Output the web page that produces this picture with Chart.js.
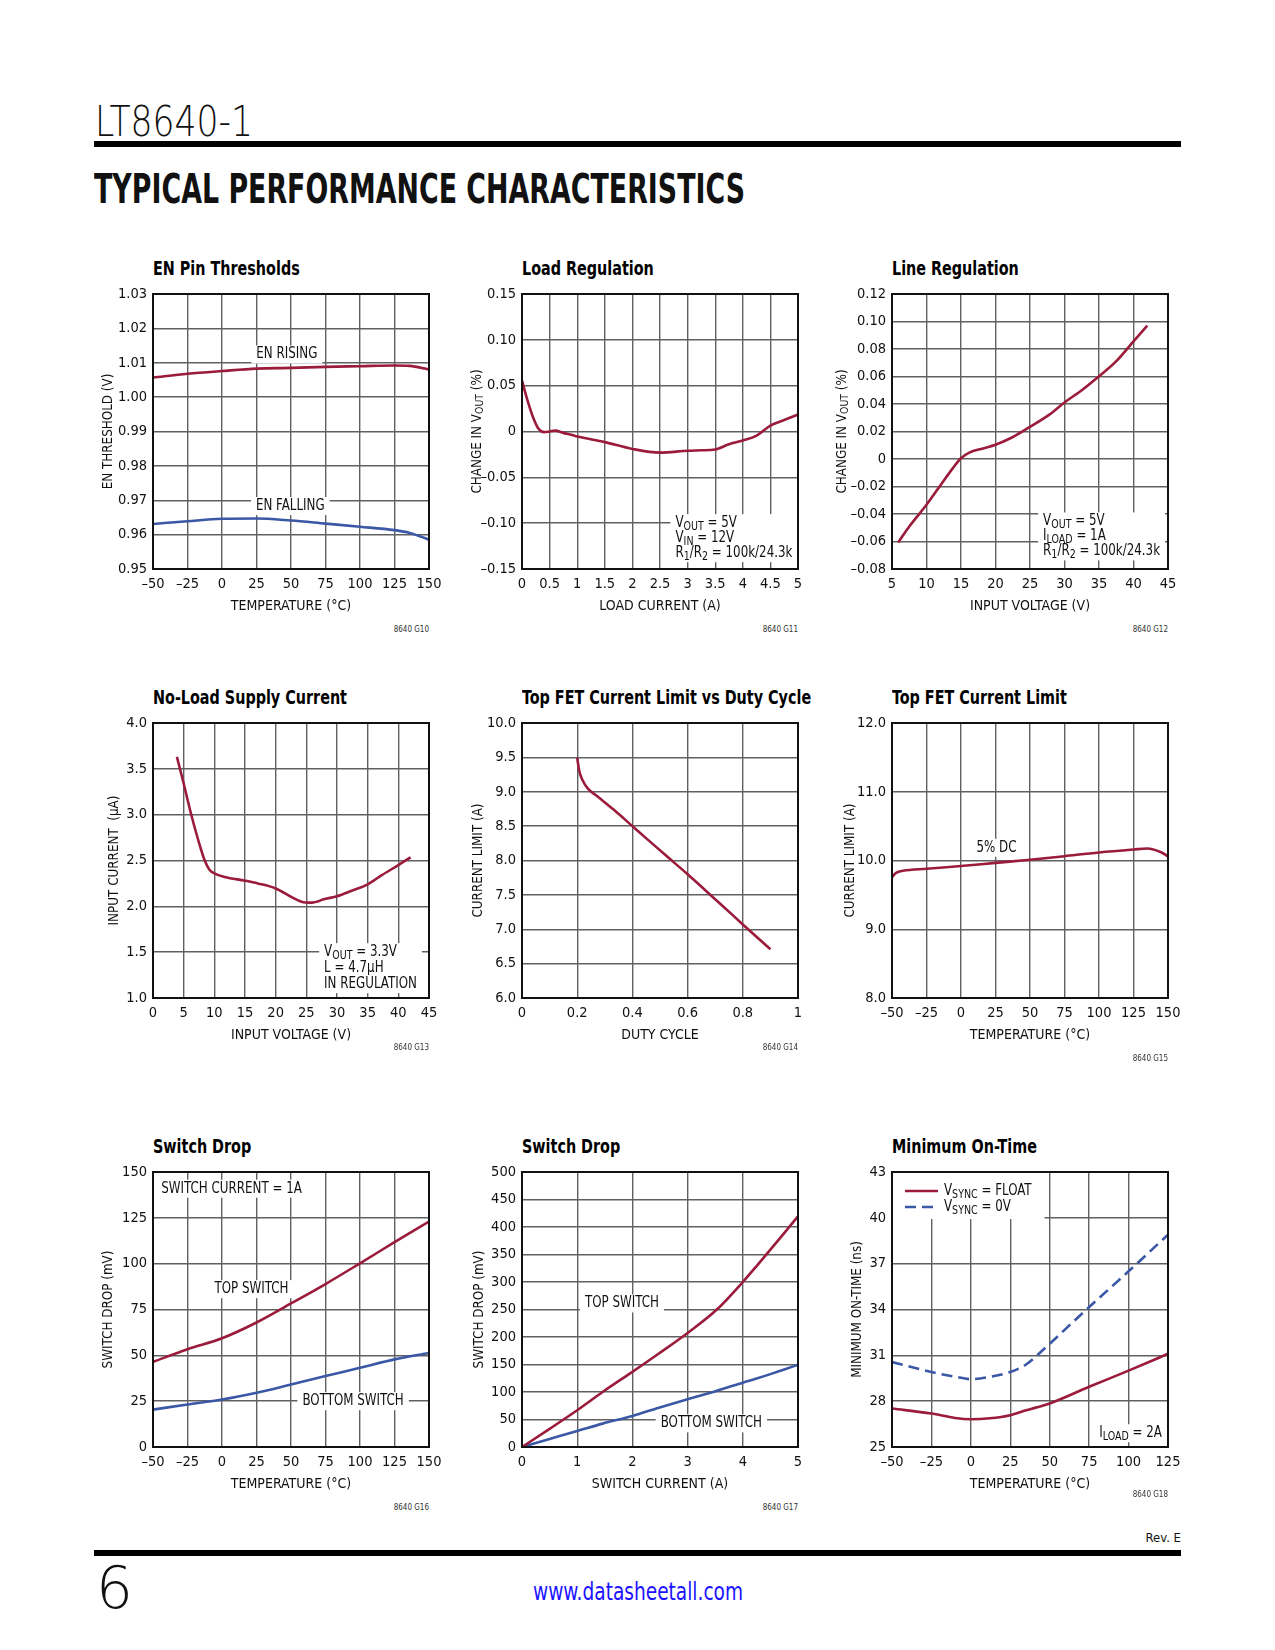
<!DOCTYPE html>
<html>
<head>
<meta charset="utf-8">
<script src="https://cdn.jsdelivr.net/npm/chart.js@4.4.1/dist/chart.umd.min.js"></script>
<style>
  body { margin:0; background:#fff; width:1275px; height:1650px; position:relative; overflow:hidden;
         font-family:'Liberation Sans Narrow','DejaVu Sans Condensed',sans-serif; color:#111; }
  .abs { position:absolute; white-space:nowrap; }
  .bar { position:absolute; left:94px; width:1087px; height:6px; background:#000; }
  .ctitle { position:absolute; white-space:nowrap; font-weight:bold; font-size:19px; line-height:20px; color:#000;
            transform-origin:0 0; transform:scaleX(0.84); }
  .code { position:absolute; width:100px; text-align:right; font-size:8px; line-height:8px; color:#333; }
</style>
</head>
<body>
<div id="part" class="abs" style="left:95px;top:101px;font-family:'DejaVu Sans';font-weight:200;font-size:42px;line-height:42px;">LT8640-1</div>
<div class="bar" style="top:141px"></div>
<div id="tpc" class="abs" style="left:94px;top:169px;font-family:'DejaVu Sans';font-weight:bold;font-size:40px;line-height:40px;">TYPICAL PERFORMANCE CHARACTERISTICS</div>

<div class="bar" style="top:1550px"></div>
<div class="abs" style="left:96px;top:1559px;font-family:'DejaVu Sans';font-weight:200;font-size:58px;line-height:58px;">6</div>
<div id="url" class="abs" style="left:533px;top:1580px;font-size:24px;line-height:24px;color:#1a12ff;">www.datasheetall.com</div>
<div class="abs" style="right:94px;top:1531px;font-size:13px;line-height:14px;">Rev. E</div>

<script>
const FONT = "'Liberation Sans Narrow', 'DejaVu Sans Condensed', sans-serif";
const RED = '#9b1b3b';
const BLUE = '#3b58a6';
const GRID = '#606060';

// ---- EN pin thresholds
const enTemp = [-50, -25, 0, 25, 50, 75, 100, 125, 136, 147, 150];
const enRising = [1.0057, 1.0068, 1.0076, 1.0083, 1.0085, 1.0088, 1.0090, 1.0092, 1.0091, 1.0083, 1.0080];
const enFalling = [0.9631, 0.9639, 0.9646, 0.9647, 0.9641, 0.9632, 0.9623, 0.9613, 0.9605, 0.9590, 0.9585];

// ---- load regulation
const loadI = [0, 0.1, 0.2, 0.3, 0.4, 0.5, 0.6, 0.75, 1.0, 1.5, 2.0, 2.5, 3.0, 3.25, 3.5, 3.75, 4.0, 4.25, 4.5, 4.75, 5.0];
const loadDv = [0.0555, 0.034, 0.0156, 0.003, -0.0007, 0, 0.001, -0.0015, -0.0055, -0.0116, -0.019, -0.023, -0.021, -0.0205, -0.0196, -0.014, -0.0098, -0.0044, 0.0065, 0.0125, 0.0185];

// ---- line regulation
const lineVin = [5.9, 7.5, 10, 11.9, 13.8, 15, 16.2, 18.2, 20, 22.6, 25, 27.7, 30, 32.5, 35, 37.4, 40, 42];
const lineDv = [-0.0607, -0.0491, -0.0333, -0.02, -0.0068, 0.0005, 0.0046, 0.0077, 0.0104, 0.0162, 0.0234, 0.0319, 0.0411, 0.05, 0.0602, 0.0706, 0.0855, 0.097];

// ---- no-load supply current
const nlVin = [3.9, 5, 6.2, 7.3, 8.4, 9.2, 10, 11.7, 15, 17.1, 20, 22.6, 24.2, 25.9, 28, 30, 32.4, 35, 37.3, 40, 42];
const nlCurrent = [3.63, 3.34, 3.01, 2.74, 2.505, 2.40, 2.36, 2.32, 2.28, 2.25, 2.195, 2.10, 2.05, 2.04, 2.08, 2.11, 2.17, 2.24, 2.34, 2.45, 2.535];

// ---- top FET current limit vs duty cycle
const dcDuty = [0.2, 0.207, 0.219, 0.238, 0.274, 0.335, 0.4, 0.468, 0.528, 0.6, 0.662, 0.735, 0.8, 0.9];
const dcLimit = [9.495, 9.31, 9.17, 9.05, 8.93, 8.73, 8.5, 8.26, 8.05, 7.80, 7.575, 7.31, 7.07, 6.71];

// ---- top FET current limit vs temperature
const tfTemp = [-50, -47, -42, -25, 0, 25, 50, 75, 100, 125, 135, 145, 150];
const tfLimit = [9.76, 9.82, 9.85, 9.88, 9.92, 9.965, 10.01, 10.063, 10.117, 10.16, 10.175, 10.12, 10.06];

// ---- switch drop vs temperature
const sdTemp = [-50, -25, 0, 25, 50, 75, 100, 125, 150];
const sdTop = [46.4, 53.3, 59.3, 67.9, 78.3, 88.9, 100.2, 111.7, 123];
const sdBottom = [20.4, 23.2, 25.9, 29.6, 34.1, 38.7, 43.2, 47.8, 51.3];

// ---- switch drop vs current
const scCurrent = [0, 0.5, 1, 1.46, 2, 2.48, 3, 3.52, 4, 4.25, 4.5, 4.75, 5];
const scTop = [0, 33, 66.8, 100, 136.7, 170, 207.4, 249, 300, 329, 359, 389, 419.5];
const scBottom = [0, 14.5, 29, 42.5, 56.5, 71.5, 87, 102, 117, 124.5, 132.5, 141, 149.4];

// ---- minimum on-time
const motTemp = [-50, -25, -10, 0, 12, 25, 35, 42, 50, 75, 100, 125];
const motFloat = [27.52, 27.19, 26.9, 26.82, 26.88, 27.08, 27.4, 27.6, 27.85, 28.94, 30.0, 31.1];
const mot0V = [30.56, 29.91, 29.6, 29.44, 29.59, 29.91, 30.4, 31.0, 31.76, 34.16, 36.5, 38.9];

// ---- ticks
const tempTicks = [-50, -25, 0, 25, 50, 75, 100, 125, 150];
const tempLabels = ['–50', '–25', '0', '25', '50', '75', '100', '125', '150'];
const motXTicks = [-50, -25, 0, 25, 50, 75, 100, 125];
const motXLabels = ['–50', '–25', '0', '25', '50', '75', '100', '125'];
const enYTicks = [0.95, 0.96, 0.97, 0.98, 0.99, 1.00, 1.01, 1.02, 1.03];
const enYLabels = ['0.95', '0.96', '0.97', '0.98', '0.99', '1.00', '1.01', '1.02', '1.03'];
const loadXTicks = [0, 0.5, 1, 1.5, 2, 2.5, 3, 3.5, 4, 4.5, 5];
const loadXLabels = ['0', '0.5', '1', '1.5', '2', '2.5', '3', '3.5', '4', '4.5', '5'];
const loadYTicks = [-0.15, -0.10, -0.05, 0, 0.05, 0.10, 0.15];
const loadYLabels = ['–0.15', '–0.10', '–0.05', '0', '0.05', '0.10', '0.15'];
const lineXTicks = [5, 10, 15, 20, 25, 30, 35, 40, 45];
const lineXLabels = ['5', '10', '15', '20', '25', '30', '35', '40', '45'];
const lineYTicks = [-0.08, -0.06, -0.04, -0.02, 0, 0.02, 0.04, 0.06, 0.08, 0.10, 0.12];
const lineYLabels = ['–0.08', '–0.06', '–0.04', '–0.02', '0', '0.02', '0.04', '0.06', '0.08', '0.10', '0.12'];
const nlXTicks = [0, 5, 10, 15, 20, 25, 30, 35, 40, 45];
const nlXLabels = ['0', '5', '10', '15', '20', '25', '30', '35', '40', '45'];
const nlYTicks = [1, 1.5, 2, 2.5, 3, 3.5, 4];
const nlYLabels = ['1.0', '1.5', '2.0', '2.5', '3.0', '3.5', '4.0'];
const dcXTicks = [0, 0.2, 0.4, 0.6, 0.8, 1];
const dcXLabels = ['0', '0.2', '0.4', '0.6', '0.8', '1'];
const dcYTicks = [6, 6.5, 7, 7.5, 8, 8.5, 9, 9.5, 10];
const dcYLabels = ['6.0', '6.5', '7.0', '7.5', '8.0', '8.5', '9.0', '9.5', '10.0'];
const tfYTicks = [8, 9, 10, 11, 12];
const tfYLabels = ['8.0', '9.0', '10.0', '11.0', '12.0'];
const sdYTicks = [0, 25, 50, 75, 100, 125, 150];
const sdYLabels = ['0', '25', '50', '75', '100', '125', '150'];
const scXTicks = [0, 1, 2, 3, 4, 5];
const scXLabels = ['0', '1', '2', '3', '4', '5'];
const scYTicks = [0, 50, 100, 150, 200, 250, 300, 350, 400, 450, 500];
const scYLabels = ['0', '50', '100', '150', '200', '250', '300', '350', '400', '450', '500'];
const motYTicks = [25, 28, 31, 34, 37, 40, 43];
const motYLabels = ['25', '28', '31', '34', '37', '40', '43'];

// ---- text helpers (subscripts written as V_{OUT}), squeezed to look like a narrow face
const NOTE_SQ = 0.88, YT_SQ = 0.95;
function richParts(str) {
  const parts = [];
  const re = /_\{([^}]*)\}/g;
  let last = 0, m;
  while ((m = re.exec(str))) {
    if (m.index > last) parts.push([str.slice(last, m.index), false]);
    parts.push([m[1], true]);
    last = re.lastIndex;
  }
  if (last < str.length) parts.push([str.slice(last), false]);
  return parts;
}
function richWidth(ctx, str, size, sq) {
  let w = 0;
  richParts(str).forEach(([t, sub]) => {
    ctx.font = `${sub ? Math.round(size * 0.78) : size}px ${FONT}`;
    w += ctx.measureText(t).width;
  });
  return w * sq;
}
function drawRich(ctx, str, x, y, size, sq) {
  ctx.save();
  ctx.translate(x, y);
  ctx.scale(sq, 1);
  ctx.textBaseline = 'middle';
  ctx.textAlign = 'left';
  let cx = 0;
  richParts(str).forEach(([t, sub]) => {
    ctx.font = `${sub ? Math.round(size * 0.78) : size}px ${FONT}`;
    ctx.fillText(t, cx, sub ? size * 0.24 : 0);
    cx += ctx.measureText(t).width;
  });
  ctx.restore();
}

function notesPlugin(cfg) {
  return {
    id: 'notes',
    beforeDatasetsDraw(chart) {
      const { ctx, scales: { x, y } } = chart;
      ctx.save();
      (cfg.notes || []).forEach(n => {
        const size = 15, gap = n.gap || 15;
        const px = x.getPixelForValue(n.x), py = y.getPixelForValue(n.y);
        const w = Math.max(...n.lines.map(l => richWidth(ctx, l, size, NOTE_SQ)));
        const left = n.align === 'center' ? px - w / 2 : px;
        ctx.fillStyle = '#fff';
        ctx.fillRect(left - 5, py - 9, w + 10, gap * (n.lines.length - 1) + 18);
        ctx.fillStyle = '#111';
        n.lines.forEach((l, i) => {
          const lw = richWidth(ctx, l, size, NOTE_SQ);
          drawRich(ctx, l, n.align === 'center' ? px - lw / 2 : px, py + i * gap, size, NOTE_SQ);
        });
      });
      if (cfg.legend) {
        const a = chart.chartArea;
        const w = Math.max(...cfg.legend.map(l => richWidth(ctx, l.label, 15, NOTE_SQ)));
        ctx.fillStyle = '#fff';
        ctx.fillRect(a.left + 1, a.top + 1, 52 + w + 12, 46);
        cfg.legend.forEach((l, i) => {
          const ly = a.top + 19 + i * 16;
          ctx.strokeStyle = l.color;
          ctx.lineWidth = 2.6;
          ctx.setLineDash(l.dash || []);
          ctx.beginPath();
          ctx.moveTo(a.left + 13, ly);
          ctx.lineTo(a.left + 46, ly);
          ctx.stroke();
          ctx.setLineDash([]);
          ctx.fillStyle = '#111';
          drawRich(ctx, l.label, a.left + 52, ly, 15, NOTE_SQ);
        });
      }
      ctx.restore();
    },
    afterDatasetsDraw(chart) {
      const { ctx, chartArea: a } = chart;
      ctx.save();
      ctx.strokeStyle = '#111';
      ctx.lineWidth = 2;
      ctx.strokeRect(a.left, a.top, a.right - a.left, a.bottom - a.top);
      // rotated y axis title
      const w = richWidth(ctx, cfg.yTitle, 14, YT_SQ);
      ctx.translate(a.left - cfg.yOff, (a.top + a.bottom) / 2);
      ctx.rotate(-Math.PI / 2);
      ctx.fillStyle = '#111';
      drawRich(ctx, cfg.yTitle, -w / 2, 0, 14, YT_SQ);
      ctx.restore();
    }
  };
}

const PW = 276, PH = 275, YW = 66, XH = 52, PADT = 12, PADR = 24;

function makeChart(cfg) {
  const W = YW + PW + PADR, H = PADT + PH + XH;
  const wrap = document.createElement('div');
  wrap.style.cssText = `position:absolute;left:${cfg.pl - YW}px;top:${cfg.pt - PADT}px;width:${W}px;height:${H}px`;
  const cv = document.createElement('canvas');
  cv.width = W; cv.height = H;
  cv.style.width = W + 'px'; cv.style.height = H + 'px';
  wrap.appendChild(cv);
  document.body.appendChild(wrap);

  const t = document.createElement('div');
  t.className = 'ctitle';
  t.style.left = cfg.pl + 'px';
  t.style.top = (cfg.pt - 36) + 'px';
  t.textContent = cfg.title;
  document.body.appendChild(t);

  const c = document.createElement('div');
  c.className = 'code';
  c.style.left = (cfg.pl + PW - 100) + 'px';
  c.style.top = (cfg.codeY - 4) + 'px';
  c.textContent = cfg.code;
  document.body.appendChild(c);

  const tickFont = { family: FONT, size: 14.5 };
  new Chart(cv, {
    type: 'line',
    data: {
      datasets: cfg.series.map(s => ({
        data: s.x.map((v, i) => ({ x: v, y: s.y[i] })),
        borderColor: s.color,
        borderWidth: 2.6,
        borderDash: s.dash || [],
        pointRadius: 0,
        fill: false,
        cubicInterpolationMode: 'monotone'
      }))
    },
    options: {
      responsive: false,
      animation: false,
      events: [],
      layout: { padding: { top: PADT, right: PADR, left: 0, bottom: 0 } },
      plugins: { legend: { display: false }, tooltip: { enabled: false } },
      scales: {
        x: {
          type: 'linear', min: cfg.xt[0], max: cfg.xt[cfg.xt.length - 1],
          afterBuildTicks: s => { s.ticks = cfg.xt.map(v => ({ value: v })); },
          ticks: { callback: (v, i) => cfg.xl[i], font: tickFont, color: '#111', padding: 7, maxRotation: 0, autoSkip: false },
          grid: { color: GRID, lineWidth: 1.4, drawTicks: false },
          border: { display: false },
          title: { display: true, text: cfg.xTitle, color: '#111', font: { family: FONT, size: 14 }, padding: { top: 0, bottom: 6.6 } },
          afterFit: s => { s.height = XH; s.paddingLeft = 0; s.paddingRight = 0; }
        },
        y: {
          type: 'linear', min: cfg.yt[0], max: cfg.yt[cfg.yt.length - 1],
          afterBuildTicks: s => { s.ticks = cfg.yt.map(v => ({ value: v })); },
          ticks: { callback: (v, i) => cfg.yl[i], font: tickFont, color: '#111', padding: 6, autoSkip: false },
          grid: { color: GRID, lineWidth: 1.4, drawTicks: false },
          border: { display: false },
          afterFit: s => { s.width = YW; s.paddingTop = 0; s.paddingBottom = 0; }
        }
      }
    },
    plugins: [notesPlugin(cfg)]
  });
}

const COL = [153, 522, 892];
const ROW = [294, 723, 1172];

makeChart({
  pl: COL[0], pt: ROW[0], title: 'EN Pin Thresholds', code: '8640 G10', codeY: 630,
  xt: tempTicks, xl: tempLabels, yt: enYTicks, yl: enYLabels,
  xTitle: 'TEMPERATURE (°C)', yTitle: 'EN THRESHOLD (V)', yOff: 45,
  series: [{ x: enTemp, y: enRising, color: RED }, { x: enTemp, y: enFalling, color: BLUE }],
  notes: [
    { x: 47, y: 1.0124, lines: ['EN RISING'], align: 'center' },
    { x: 49.5, y: 0.9683, lines: ['EN FALLING'], align: 'center' }
  ]
});
makeChart({
  pl: COL[1], pt: ROW[0], title: 'Load Regulation', code: '8640 G11', codeY: 630,
  xt: loadXTicks, xl: loadXLabels, yt: loadYTicks, yl: loadYLabels,
  xTitle: 'LOAD CURRENT (A)', yTitle: 'CHANGE IN V_{OUT} (%)', yOff: 45,
  series: [{ x: loadI, y: loadDv, color: RED }],
  notes: [{ x: 2.78, y: -0.10, lines: ['V_{OUT} = 5V', 'V_{IN} = 12V', 'R_{1}/R_{2} = 100k/24.3k'], align: 'left' }]
});
makeChart({
  pl: COL[2], pt: ROW[0], title: 'Line Regulation', code: '8640 G12', codeY: 630,
  xt: lineXTicks, xl: lineXLabels, yt: lineYTicks, yl: lineYLabels,
  xTitle: 'INPUT VOLTAGE (V)', yTitle: 'CHANGE IN V_{OUT} (%)', yOff: 50,
  series: [{ x: lineVin, y: lineDv, color: RED }],
  notes: [{ x: 26.9, y: -0.0454, lines: ['V_{OUT} = 5V', 'I_{LOAD} = 1A', 'R_{1}/R_{2} = 100k/24.3k'], align: 'left' }]
});
makeChart({
  pl: COL[0], pt: ROW[1], title: 'No-Load Supply Current', code: '8640 G13', codeY: 1048,
  xt: nlXTicks, xl: nlXLabels, yt: nlYTicks, yl: nlYLabels,
  xTitle: 'INPUT VOLTAGE (V)', yTitle: 'INPUT CURRENT  (µA)', yOff: 39,
  series: [{ x: nlVin, y: nlCurrent, color: RED }],
  notes: [{ x: 27.9, y: 1.5, lines: ['V_{OUT} = 3.3V', 'L = 4.7µH', 'IN REGULATION'], align: 'left', gap: 16 }]
});
makeChart({
  pl: COL[1], pt: ROW[1], title: 'Top FET Current Limit vs Duty Cycle', code: '8640 G14', codeY: 1048,
  xt: dcXTicks, xl: dcXLabels, yt: dcYTicks, yl: dcYLabels,
  xTitle: 'DUTY CYCLE', yTitle: 'CURRENT LIMIT (A)', yOff: 44,
  series: [{ x: dcDuty, y: dcLimit, color: RED }]
});
makeChart({
  pl: COL[2], pt: ROW[1], title: 'Top FET Current Limit', code: '8640 G15', codeY: 1059,
  xt: tempTicks, xl: tempLabels, yt: tfYTicks, yl: tfYLabels,
  xTitle: 'TEMPERATURE (°C)', yTitle: 'CURRENT LIMIT (A)', yOff: 42,
  series: [{ x: tfTemp, y: tfLimit, color: RED }],
  notes: [{ x: 25.7, y: 10.185, lines: ['5% DC'], align: 'center' }]
});
makeChart({
  pl: COL[0], pt: ROW[2], title: 'Switch Drop', code: '8640 G16', codeY: 1508,
  xt: tempTicks, xl: tempLabels, yt: sdYTicks, yl: sdYLabels,
  xTitle: 'TEMPERATURE (°C)', yTitle: 'SWITCH DROP (mV)', yOff: 45,
  series: [{ x: sdTemp, y: sdTop, color: RED }, { x: sdTemp, y: sdBottom, color: BLUE }],
  notes: [
    { x: -44, y: 140.9, lines: ['SWITCH CURRENT = 1A'], align: 'left' },
    { x: 21.4, y: 86.1, lines: ['TOP SWITCH'], align: 'center' },
    { x: 95, y: 25, lines: ['BOTTOM SWITCH'], align: 'center' }
  ]
});
makeChart({
  pl: COL[1], pt: ROW[2], title: 'Switch Drop', code: '8640 G17', codeY: 1508,
  xt: scXTicks, xl: scXLabels, yt: scYTicks, yl: scYLabels,
  xTitle: 'SWITCH CURRENT (A)', yTitle: 'SWITCH DROP (mV)', yOff: 43,
  series: [{ x: scCurrent, y: scTop, color: RED }, { x: scCurrent, y: scBottom, color: BLUE }],
  notes: [
    { x: 1.81, y: 261, lines: ['TOP SWITCH'], align: 'center' },
    { x: 3.43, y: 43, lines: ['BOTTOM SWITCH'], align: 'center' }
  ]
});
makeChart({
  pl: COL[2], pt: ROW[2], title: 'Minimum On-Time', code: '8640 G18', codeY: 1495,
  xt: motXTicks, xl: motXLabels, yt: motYTicks, yl: motYLabels,
  xTitle: 'TEMPERATURE (°C)', yTitle: 'MINIMUM ON-TIME (ns)', yOff: 35,
  series: [{ x: motTemp, y: motFloat, color: RED }, { x: motTemp, y: mot0V, color: BLUE, dash: [11, 6] }],
  notes: [{ x: 81.4, y: 25.9, lines: ['I_{LOAD} = 2A'], align: 'left' }],
  legend: [
    { label: 'V_{SYNC} = FLOAT', color: RED },
    { label: 'V_{SYNC} = 0V', color: BLUE, dash: [11, 6] }
  ]
});

// squeeze header texts to the widths of the original
function fitWidth(id, w) {
  const el = document.getElementById(id);
  const r = el.getBoundingClientRect().width;
  el.style.transformOrigin = '0 0';
  el.style.transform = `scaleX(${w / r})`;
}
fitWidth('part', 158);
fitWidth('tpc', 651);
fitWidth('url', 210);
</script>
</body>
</html>
